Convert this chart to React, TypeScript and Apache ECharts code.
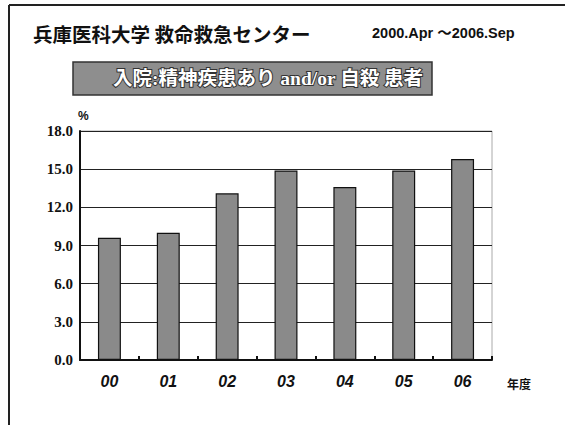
import React, { useEffect, useRef } from "react";
import * as echarts from "echarts";

const categories = ["00", "01", "02", "03", "04", "05", "06"];
const values = [9.6, 10.0, 13.1, 14.9, 13.6, 14.9, 15.8];
const yTicks = { min: 0, max: 18, interval: 3 };
const titleText = "兵庫医科大学 救命救急センター";
const periodText = "2000.Apr 〜2006.Sep";
const bannerText = "入院:精神疾患あり and/or 自殺 患者";
const yUnit = "%";
const xUnit = "年度";

export default function App() {
  const ref = useRef<HTMLDivElement>(null);
  useEffect(() => {
    if (!ref.current) return;
    const chart = echarts.init(ref.current, null, { renderer: "svg" });
    chart.setOption({
      animation: false,
      backgroundColor: "#ffffff",
      grid: {
        left: 80,
        right: 73,
        top: 131,
        bottom: 65,
        show: true,
        borderColor: "#aaaaaa",
        borderWidth: 1,
        backgroundColor: "transparent",
      },
      xAxis: {
        type: "category",
        data: categories,
        axisLine: { lineStyle: { color: "#111", width: 2 } },
        axisTick: { show: true, inside: true, length: 4, lineStyle: { color: "#111", width: 2 } },
        axisLabel: {
          margin: 13,
          fontSize: 16,
          fontStyle: "italic",
          fontWeight: "bold",
          fontFamily: "'Liberation Sans', Arial, sans-serif",
          color: "#111",
        },
      },
      yAxis: {
        type: "value",
        min: yTicks.min,
        max: yTicks.max,
        interval: yTicks.interval,
        name: yUnit,
        nameLocation: "end",
        nameGap: 9,
        nameTextStyle: {
          fontSize: 12,
          fontWeight: "bold",
          fontFamily: "'Liberation Sans', Arial, sans-serif",
          color: "#111",
          align: "left",
          padding: [0, 0, 0, -2],
        },
        axisLine: { show: true, lineStyle: { color: "#111", width: 2 } },
        axisTick: { show: false },
        axisLabel: {
          margin: 7,
          fontSize: 15,
          fontWeight: "bold",
          fontFamily: "'Liberation Serif', 'Times New Roman', serif",
          color: "#111",
          formatter: (v: number) => v.toFixed(1),
        },
        splitLine: { show: true, lineStyle: { color: "#222", width: 1.2 } },
      },
      series: [
        {
          type: "bar",
          data: values,
          barWidth: "39%",
          itemStyle: { color: "#8a8a8a", borderColor: "#111", borderWidth: 1.2 },
        },
      ],
      graphic: [
        { type: "line", shape: { x1: 9, y1: 5, x2: 565, y2: 5 }, style: { stroke: "#222", lineWidth: 2 } },
        { type: "line", shape: { x1: 9, y1: 5, x2: 9, y2: 425 }, style: { stroke: "#222", lineWidth: 2 } },
        {
          type: "text",
          x: 33,
          y: 33,
          style: {
            text: titleText,
            fontSize: 19.5,
            fontWeight: "bold",
            fontFamily: "'Noto Sans CJK JP', sans-serif",
            fill: "#111",
            verticalAlign: "middle",
          },
        },
        {
          type: "text",
          x: 372,
          y: 33,
          style: {
            text: periodText,
            fontSize: 14.5,
            fontWeight: "bold",
            fontFamily: "'Liberation Sans', 'Noto Sans CJK JP', sans-serif",
            fill: "#111",
            verticalAlign: "middle",
          },
        },
        {
          type: "rect",
          shape: { x: 73, y: 62, width: 359, height: 33 },
          style: { fill: "#8e8e8e", stroke: "#333", lineWidth: 1.5 },
        },
        {
          type: "text",
          x: 113,
          y: 78.5,
          style: {
            text: bannerText,
            fontSize: 19.5,
            fontWeight: "bold",
            fontFamily: "'Liberation Serif', 'Noto Sans CJK JP', serif",
            fill: "#ffffff",
            stroke: "#333",
            lineWidth: 2,
            verticalAlign: "middle",
          },
        },
        {
          type: "text",
          x: 507,
          y: 383,
          style: {
            text: xUnit,
            fontSize: 12,
            fontWeight: "bold",
            fontFamily: "'Noto Sans CJK JP', sans-serif",
            fill: "#111",
            verticalAlign: "middle",
          },
        },
      ],
    });
    return () => chart.dispose();
  }, []);
  return (
    <div
      ref={ref}
      style={{ position: "fixed", left: 0, top: 0, width: 565, height: 425 }}
    />
  );
}
